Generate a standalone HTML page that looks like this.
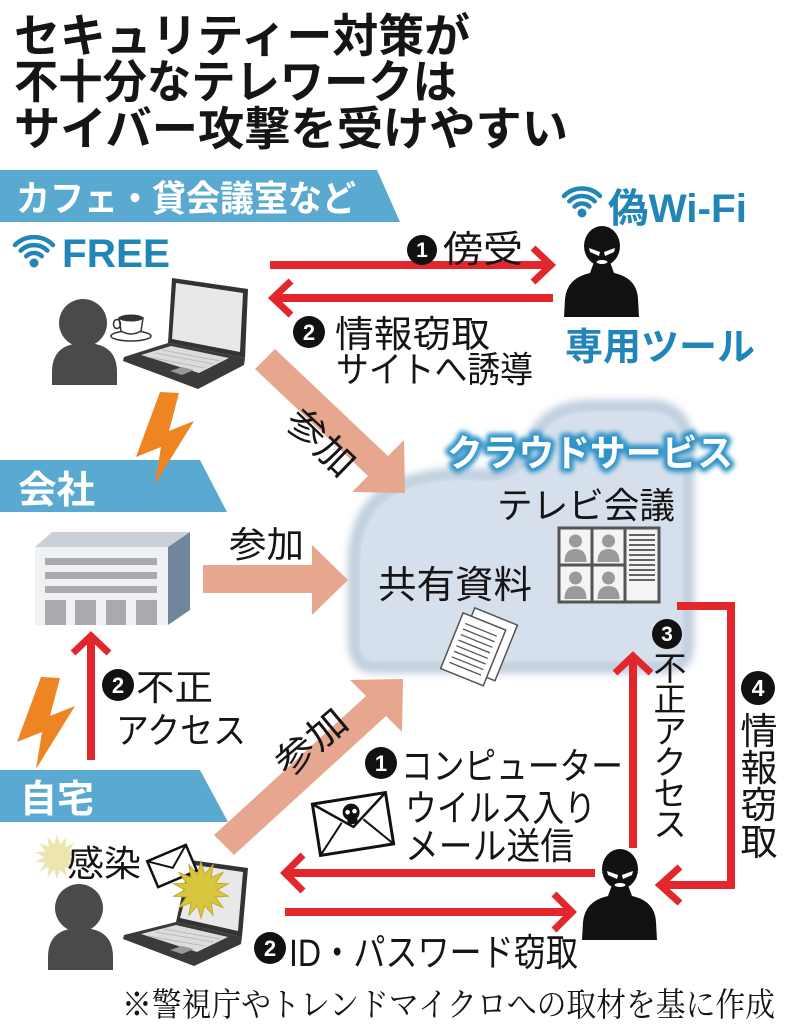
<!DOCTYPE html>
<html><head><meta charset="utf-8">
<style>
html,body{margin:0;padding:0;background:#fff;}
svg{display:block;}
.s{font-family:"Liberation Sans","Noto Sans CJK JP",sans-serif;}
.m{font-family:"Liberation Serif","Noto Serif CJK SC",serif;}
</style></head>
<body>
<svg width="787" height="1024" viewBox="0 0 787 1024" xmlns="http://www.w3.org/2000/svg">
<defs>
 <filter id="b3" x="-20%" y="-20%" width="140%" height="140%"><feGaussianBlur stdDeviation="4"/></filter>
 <filter id="b2" x="-10%" y="-40%" width="120%" height="180%"><feGaussianBlur stdDeviation="2.5"/></filter>
 <polygon id="burst" points="0,-28 3.6,-15.6 12.1,-25.2 10,-12.5 21.9,-17.5 14.4,-6.9 27.3,-6.2 16,0 27.3,6.2 14.4,6.9 21.9,17.5 10,12.5 12.1,25.2 3.6,15.6 0,28 -3.6,15.6 -12.1,25.2 -10,12.5 -21.9,17.5 -14.4,6.9 -27.3,6.2 -16,0 -27.3,-6.2 -14.4,-6.9 -21.9,-17.5 -10,-12.5 -12.1,-25.2 -3.6,-15.6"/>
</defs>
<rect width="787" height="1024" fill="#fff"/>

<!-- Title -->
<g class="s" font-weight="700" font-size="46" fill="#151515">
 <text x="14" y="52" textLength="456" lengthAdjust="spacingAndGlyphs">セキュリティー対策が</text>
 <text x="14" y="98" textLength="443" lengthAdjust="spacingAndGlyphs">不十分なテレワークは</text>
 <text x="14" y="145" textLength="554" lengthAdjust="spacingAndGlyphs">サイバー攻撃を受けやすい</text>
</g>

<!-- Banners -->
<polygon points="0,170 377,170 400,222 0,222" fill="#5aa9d1"/>
<polygon points="0,460 200,460 227,512 0,512" fill="#5aa9d1"/>
<polygon points="0,770 200,770 228,822 0,822" fill="#5aa9d1"/>
<g class="s" font-weight="700" fill="#fff">
 <text x="16" y="211" font-size="36" textLength="340" lengthAdjust="spacingAndGlyphs">カフェ・貸会議室など</text>
 <text x="18" y="503" font-size="38" textLength="77" lengthAdjust="spacingAndGlyphs">会社</text>
 <text x="20" y="812" font-size="38" textLength="74" lengthAdjust="spacingAndGlyphs">自宅</text>
</g>

<!-- FREE wifi -->
<g fill="none" stroke="#2285b8" stroke-width="4.5" stroke-linecap="round">
 <path d="M26.2,256.2 A11,11 0 0 1 41.8,256.2"/>
 <path d="M20.6,250.6 A19,19 0 0 1 47.4,250.6"/>
 <path d="M15,245 A27,27 0 0 1 53,245"/>
</g>
<circle cx="34" cy="263" r="4.5" fill="#2285b8"/>
<text class="s" x="62" y="267" font-size="40" font-weight="700" fill="#2285b8" textLength="108" lengthAdjust="spacingAndGlyphs">FREE</text>

<!-- 偽Wi-Fi -->
<g fill="none" stroke="#2285b8" stroke-width="4.5" stroke-linecap="round">
 <path d="M574.6,206.6 A10.5,10.5 0 0 1 589.4,206.6"/>
 <path d="M569.3,201.3 A18,18 0 0 1 594.7,201.3"/>
 <path d="M564,196 A25.5,25.5 0 0 1 600,196"/>
</g>
<circle cx="582" cy="213" r="4.5" fill="#2285b8"/>
<text class="s" x="608" y="222" font-size="40" font-weight="700" fill="#2285b8" textLength="139" lengthAdjust="spacingAndGlyphs">偽Wi-Fi</text>
<text class="s" x="565" y="360" font-size="38" font-weight="700" fill="#2285b8" textLength="190" lengthAdjust="spacingAndGlyphs">専用ツール</text>

<!-- Hacker top -->
<g id="hacker">
 <path d="M564,317 L565,299 Q567,278 590,273 L594,262 L610,262 L614,273 Q637,278 638,299 L639,317 Z" fill="#111"/>
 <ellipse cx="602" cy="246" rx="18" ry="20" fill="#111"/>
 <polygon points="589,248 600,252 599,256 590,252" fill="#fff"/>
 <polygon points="615,248 604,252 605,256 614,252" fill="#fff"/>
 <ellipse cx="602" cy="262" rx="5.5" ry="2" fill="#fff"/>
</g>
<use href="#hacker" transform="translate(18,623)"/>

<!-- Red arrows top -->
<g stroke="#e1262c" fill="none">
 <line x1="270" y1="265" x2="550" y2="265" stroke-width="8"/>
 <polyline points="533,248 551,265 533,282" stroke-width="7"/>
 <line x1="274" y1="298" x2="553" y2="298" stroke-width="8"/>
 <polyline points="291,281 273,298 291,315" stroke-width="7"/>
</g>

<!-- labels top arrows -->
<circle cx="422" cy="250" r="15" fill="#111"/>
<text class="s" x="422" y="257" font-size="21" font-weight="700" fill="#fff" text-anchor="middle">1</text>
<text class="s" x="443" y="262" font-size="37" fill="#151515" textLength="80" lengthAdjust="spacingAndGlyphs">傍受</text>
<circle cx="309" cy="332" r="16" fill="#111"/>
<text class="s" x="309" y="340" font-size="22" font-weight="700" fill="#fff" text-anchor="middle">2</text>
<text class="s" x="335" y="347" font-size="37" fill="#151515" textLength="155" lengthAdjust="spacingAndGlyphs">情報窃取</text>
<text class="s" x="336" y="382" font-size="36" fill="#151515" textLength="197" lengthAdjust="spacingAndGlyphs">サイトへ誘導</text>

<!-- Person top -->
<g id="person" fill="#4a4a4a">
 <path d="M52,385 L52,372 Q52,343 84.5,343 Q117,343 117,372 L117,385 Z"/>
 <circle cx="83" cy="323" r="24"/>
</g>
<use href="#person" transform="translate(-4,585)"/>

<!-- Coffee cup -->
<ellipse cx="131" cy="336" rx="20" ry="5" fill="#fff" stroke="#333" stroke-width="1.5"/>
<path d="M119,318 L121,331 Q131,337 141,331 L143,318 Z" fill="#fff" stroke="#333" stroke-width="1.5"/>
<ellipse cx="131" cy="318" rx="12" ry="3.5" fill="#333"/>
<ellipse cx="117" cy="324" rx="3.5" ry="4.5" fill="none" stroke="#333" stroke-width="1.5"/>

<!-- Laptop top -->
<polygon points="172,278 248,289 245,358 168,343" fill="#333"/>
<polygon points="176,283 243,293 240,352 172,339" fill="#e8e8e8"/>
<polygon points="124,357 168,343 245,358 244,365 198,389 123,361" fill="#3a3a3a"/>
<polygon points="141,355 171,346 229,358 199,373" fill="#dcdcdc"/>
<g stroke="#bbb" stroke-width="1">
 <line x1="148" y1="357" x2="205" y2="368"/>
 <line x1="155" y1="353" x2="213" y2="364"/>
 <line x1="162" y1="350" x2="220" y2="361"/>
</g>
<polygon points="170,371 182,367 194,370 182,375" fill="#999"/>

<!-- Lightning -->
<g id="bolt">
 <polygon points="160,392 136,457 161,447 155,484 194,421 169,431 179,393" fill="#ef8422"/>
</g>

<!-- Building -->
<polygon points="35,547 52,532 190,532 168,547" fill="#c9d0d8"/>
<rect x="35" y="547" width="133" height="78" fill="#eff1f3"/>
<polygon points="168,547 190,532 190,610 168,625" fill="#6f879c"/>
<g fill="#a8aaad">
 <rect x="45" y="558" width="112" height="7"/>
 <rect x="45" y="572" width="112" height="7"/>
 <rect x="45" y="586" width="112" height="7"/>
 <rect x="45" y="600" width="21" height="25"/>
 <rect x="75" y="600" width="21" height="25"/>
 <rect x="106" y="600" width="20" height="25"/>
 <rect x="136" y="600" width="21" height="25"/>
</g>

<!-- Cloud -->
<path d="M374,668 Q353,668 353,640 L353,565 Q353,500 405,482 Q440,470 480,474 Q510,476 522,458 L532,438 Q548,405 592,405 L650,405 Q689,405 689,450 L689,645 Q689,668 666,668 Z" fill="#d4dfeb" stroke="#bccbdc" stroke-width="10" filter="url(#b3)"/>
<path d="M378,661 Q360,661 360,637 L360,568 Q360,506 409,489 Q442,478 480,481 Q514,483 528,462 L538,442 Q552,412 594,412 L648,412 Q682,412 682,453 L682,642 Q682,661 663,661 Z" fill="#d6e0ec"/>

<!-- Cloud label -->
<text class="s" x="447" y="466" font-size="37" font-weight="700" fill="#2f93c8" stroke="#2f93c8" stroke-width="9" stroke-linejoin="round" textLength="286" lengthAdjust="spacingAndGlyphs" filter="url(#b2)">クラウドサービス</text>
<text class="s" x="447" y="466" font-size="37" font-weight="700" fill="#fff" textLength="286" lengthAdjust="spacingAndGlyphs">クラウドサービス</text>

<text class="s" x="497" y="518" font-size="36" fill="#151515" textLength="178" lengthAdjust="spacingAndGlyphs">テレビ会議</text>
<text class="s" x="378" y="598" font-size="38" fill="#151515" textLength="154" lengthAdjust="spacingAndGlyphs">共有資料</text>

<!-- video conference icon -->
<rect x="559" y="528" width="100" height="74" fill="#f4f4f4" stroke="#555" stroke-width="3"/>
<g stroke="#555" stroke-width="3">
 <line x1="592" y1="528" x2="592" y2="602"/>
 <line x1="625" y1="528" x2="625" y2="602"/>
 <line x1="559" y1="565" x2="625" y2="565"/>
</g>
<g id="mini" fill="#9a9a9a">
 <circle cx="575.5" cy="541" r="6.5"/>
 <path d="M564.5,562 Q564.5,549 575.5,549 Q586.5,549 586.5,562 Z"/>
</g>
<use href="#mini" transform="translate(33,0)"/>
<use href="#mini" transform="translate(0,37)"/>
<use href="#mini" transform="translate(33,37)"/>
<g stroke="#333" stroke-width="1.5">
 <line x1="629" y1="535" x2="655" y2="535"/><line x1="629" y1="540" x2="655" y2="540"/>
 <line x1="629" y1="545" x2="655" y2="545"/><line x1="629" y1="550" x2="655" y2="550"/>
 <line x1="629" y1="555" x2="655" y2="555"/><line x1="629" y1="560" x2="655" y2="560"/>
 <line x1="629" y1="565" x2="655" y2="565"/><line x1="629" y1="570" x2="655" y2="570"/>
 <line x1="629" y1="575" x2="655" y2="575"/><line x1="629" y1="580" x2="655" y2="580"/>
</g>

<!-- documents -->
<g transform="translate(478,648) rotate(22)">
 <rect x="-18" y="-36" width="46" height="60" fill="#fff" stroke="#555" stroke-width="1.5"/>
 <rect x="-27" y="-27" width="46" height="60" fill="#fff" stroke="#555" stroke-width="1.5"/>
 <g stroke="#555" stroke-width="1.3">
  <line x1="-21" y1="-18" x2="13" y2="-18"/><line x1="-21" y1="-12" x2="13" y2="-12"/>
  <line x1="-21" y1="-6" x2="13" y2="-6"/><line x1="-21" y1="0" x2="13" y2="0"/>
  <line x1="-21" y1="6" x2="13" y2="6"/><line x1="-21" y1="12" x2="13" y2="12"/>
  <line x1="-21" y1="18" x2="13" y2="18"/><line x1="-21" y1="24" x2="13" y2="24"/>
 </g>
</g>

<!-- Salmon arrows -->
<g fill="#e7a78f">
 <polygon points="255,369 275,349 388,456 404,440 405,493 352,492 368,476"/>
 <rect x="203" y="565" width="110" height="28"/>
 <polygon points="312,545 348,580 312,615"/>
 <polygon points="214,835 366,696 350,680 403,679 402,732 386,716 234,855"/>
</g>
<g class="s" fill="#151515">
 <text x="229" y="557" font-size="36" textLength="75" lengthAdjust="spacingAndGlyphs">参加</text>
 <text transform="translate(321,442) rotate(44)" x="0" y="13" font-size="37" text-anchor="middle" textLength="80" lengthAdjust="spacingAndGlyphs">参加</text>
 <text transform="translate(311,742) rotate(-40)" x="0" y="13" font-size="37" text-anchor="middle" textLength="82" lengthAdjust="spacingAndGlyphs">参加</text>
</g>

<!-- Red bracket ❹ & ❸ arrow -->
<g stroke="#e1262c" fill="none">
 <polyline points="677,606 731,606 731,885 662,885" stroke-width="8"/>
 <polyline points="680,867 660,885 680,903" stroke-width="7"/>
 <line x1="633" y1="848" x2="633" y2="659" stroke-width="8"/>
 <polyline points="615,673 633,656 651,673" stroke-width="7"/>
 <line x1="287" y1="873" x2="595" y2="873" stroke-width="8"/>
 <polyline points="303,855 285,873 303,891" stroke-width="7"/>
 <line x1="285" y1="912" x2="571" y2="912" stroke-width="8"/>
 <polyline points="554,894 572,912 554,930" stroke-width="7"/>
 <line x1="91" y1="760" x2="91" y2="637" stroke-width="8"/>
 <polyline points="73,653 91,636 109,653" stroke-width="7"/>
</g>

<!-- ❸ vertical -->
<circle cx="667" cy="634" r="15" fill="#111"/>
<text class="s" x="667" y="641" font-size="21" font-weight="700" fill="#fff" text-anchor="middle">3</text>
<g class="s" font-size="33" fill="#151515" text-anchor="middle">
 <text x="670" y="680">不</text>
 <text x="670" y="711">正</text>
 <text x="670" y="743">ア</text>
 <text x="670" y="774">ク</text>
 <text x="670" y="805">セ</text>
 <text x="670" y="836">ス</text>
</g>
<!-- ❹ vertical -->
<circle cx="758" cy="688" r="17" fill="#111"/>
<text class="s" x="758" y="696" font-size="23" font-weight="700" fill="#fff" text-anchor="middle">4</text>
<g class="s" font-size="37" fill="#151515" text-anchor="middle">
 <text x="759" y="744">情</text>
 <text x="759" y="781">報</text>
 <text x="759" y="818">窃</text>
 <text x="759" y="855">取</text>
</g>

<!-- ❶ virus mail -->
<circle cx="381" cy="763" r="16" fill="#111"/>
<text class="s" x="381" y="771" font-size="22" font-weight="700" fill="#fff" text-anchor="middle">1</text>
<g class="s" font-size="37" fill="#151515">
 <text x="401" y="779" textLength="222" lengthAdjust="spacingAndGlyphs">コンピューター</text>
 <text x="405" y="821" textLength="191" lengthAdjust="spacingAndGlyphs">ウイルス入り</text>
 <text x="405" y="859" textLength="169" lengthAdjust="spacingAndGlyphs">メール送信</text>
</g>
<g transform="translate(353,824) rotate(-9)">
 <rect x="-37" y="-26" width="74" height="52" fill="#fff" stroke="#111" stroke-width="3"/>
 <polyline points="-37,-26 0,3 37,-26" fill="none" stroke="#111" stroke-width="2.5"/>
 <line x1="-37" y1="26" x2="-11" y2="-3" stroke="#111" stroke-width="2"/>
 <line x1="37" y1="26" x2="11" y2="-3" stroke="#111" stroke-width="2"/>
 <circle cx="0" cy="-12" r="8.5" fill="#111"/>
 <rect x="-5" y="-7" width="10" height="7" fill="#111"/>
 <circle cx="-3.5" cy="-12.5" r="2.3" fill="#fff"/>
 <circle cx="3.5" cy="-12.5" r="2.3" fill="#fff"/>
</g>

<!-- ❷ ID -->
<circle cx="270" cy="948" r="16" fill="#111"/>
<text class="s" x="270" y="956" font-size="22" font-weight="700" fill="#fff" text-anchor="middle">2</text>
<text class="s" x="289" y="966" font-size="38" fill="#151515" textLength="289" lengthAdjust="spacingAndGlyphs">ID・パスワード窃取</text>

<!-- ❷ 不正アクセス (home) -->
<circle cx="118" cy="685" r="16" fill="#111"/>
<text class="s" x="118" y="693" font-size="22" font-weight="700" fill="#fff" text-anchor="middle">2</text>
<text class="s" x="136" y="700" font-size="36" fill="#151515" textLength="77" lengthAdjust="spacingAndGlyphs">不正</text>
<text class="s" x="116" y="743" font-size="36" fill="#151515" textLength="130" lengthAdjust="spacingAndGlyphs">アクセス</text>

<!-- Lightning 2 -->
<use href="#bolt" transform="translate(-119,285)"/>

<!-- 感染 -->
<use href="#burst" transform="translate(57,857) scale(0.8)" fill="#ece5ad"/>
<text class="s" x="67" y="876" font-size="36" fill="#151515" textLength="74" lengthAdjust="spacingAndGlyphs">感染</text>

<!-- Laptop bottom -->
<polygon points="190,860 248,868 242,937 176,922" fill="#333"/>
<polygon points="194,865 243,872 238,931 180,918" fill="#e8e8e8"/>
<polygon points="124,935 176,922 242,937 241,944 194,966 123,939" fill="#3a3a3a"/>
<polygon points="141,934 176,925 228,937 197,952" fill="#dcdcdc"/>
<g stroke="#bbb" stroke-width="1">
 <line x1="148" y1="936" x2="205" y2="946"/>
 <line x1="156" y1="932" x2="213" y2="942"/>
 <line x1="164" y1="929" x2="220" y2="939"/>
</g>
<polygon points="170,950 182,946 194,949 182,954" fill="#999"/>
<g transform="translate(172,866) rotate(-23)">
 <rect x="-21" y="-14" width="42" height="28" fill="#fff" stroke="#111" stroke-width="2.5"/>
 <polyline points="-21,-14 0,2 21,-14" fill="none" stroke="#111" stroke-width="2"/>
</g>
<use href="#burst" transform="translate(201,890)" fill="#d9c53e" stroke="#c2a92a" stroke-width="1"/>

<!-- Footer -->
<text class="m" x="122" y="1016" font-size="33" fill="#151515" textLength="653" lengthAdjust="spacingAndGlyphs">※警視庁やトレンドマイクロへの取材を基に作成</text>
</svg>
</body></html>
